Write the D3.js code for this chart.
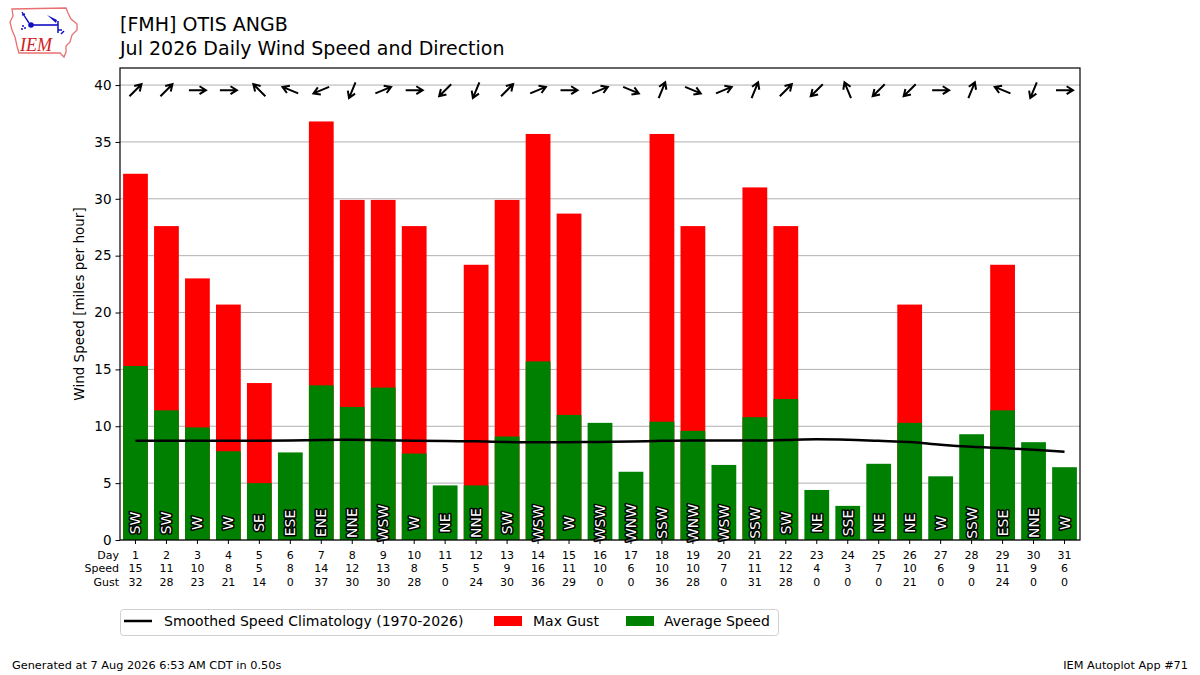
<!DOCTYPE html>
<html>
<head>
<meta charset="utf-8">
<script src="https://cdn.jsdelivr.net/npm/d3@7"></script>
<style>
  html, body { margin: 0; padding: 0; background: #fff; }
  svg { display: block; font-family: "DejaVu Sans", sans-serif; }
</style>
</head>
<body>
<svg id="chart" width="1200" height="675"></svg>
<script>
// ---- data ----
const days = d3.range(1, 32);
const avgSpeed = [15.3, 11.4, 9.9, 7.8, 5.0, 7.7, 13.6, 11.7, 13.4, 7.6, 4.8, 4.8, 9.1, 15.7, 11.0, 10.3, 6.0, 10.4, 9.6, 6.6, 10.8, 12.4, 4.4, 3.0, 6.7, 10.3, 5.6, 9.3, 11.4, 8.6, 6.4];
const maxGust = [32.2, 27.6, 23.0, 20.7, 13.8, 0, 36.8, 29.9, 29.9, 27.6, 0, 24.2, 29.9, 35.7, 28.7, 0, 0, 35.7, 27.6, 0, 31.0, 27.6, 0, 0, 0, 20.7, 0, 0, 24.2, 0, 0];
const windDir = ["SW","SW","W","W","SE","ESE","ENE","NNE","WSW","W","NE","NNE","SW","WSW","W","WSW","WNW","SSW","WNW","WSW","SSW","SW","NE","SSE","NE","NE","W","SSW","ESE","NNE","W"];
const climo = [8.73, 8.73, 8.73, 8.73, 8.73, 8.75, 8.8, 8.82, 8.78, 8.72, 8.7, 8.68, 8.62, 8.59, 8.6, 8.62, 8.65, 8.72, 8.75, 8.75, 8.74, 8.8, 8.86, 8.82, 8.72, 8.62, 8.38, 8.2, 8.09, 7.93, 7.76];
const yTicks = [0, 5, 10, 15, 20, 25, 30, 35, 40];
const compass = ["N","NNE","NE","ENE","E","ESE","SE","SSE","S","SSW","SW","WSW","W","WNW","NW","NNW"];

const titleLines = ["[FMH] OTIS ANGB", "Jul 2026 Daily Wind Speed and Direction"];
const yLabel = "Wind Speed [miles per hour]";
const legendItems = ["Smoothed Speed Climatology (1970-2026)", "Max Gust", "Average Speed"];
const footerLeft = "Generated at 7 Aug 2026 6:53 AM CDT in 0.50s";
const footerRight = "IEM Autoplot App #71";

// ---- layout ----
const svg = d3.select("#chart");
const L = 120, R = 1080, T = 68, B = 540;
const x = d3.scaleBand().domain(days).range([L, R]).paddingInner(0.2).paddingOuter(0.1);
const y = d3.scaleLinear().domain([0, 41.5]).range([B, T]);
const cx = d => x(d) + x.bandwidth() / 2;

// ---- logo ----
const logo = svg.append("g");
logo.append("path")
  .attr("d", "M12,9 L66,8 L68,13 L71,19 L77,24 L77,30 L72,35 L70,42 L66,46 L66,52 L64,57 L60,53 L19,53 L17,46 L15,37 L12,30 L10,22 L13,16 Z")
  .attr("fill", "#fff").attr("stroke", "#e87070").attr("stroke-width", 1.3);
logo.append("line").attr("x1", 31).attr("y1", 25).attr("x2", 58).attr("y2", 25).attr("stroke", "#1010c0").attr("stroke-width", 1.6);
logo.append("circle").attr("cx", 31).attr("cy", 25).attr("r", 2.8).attr("fill", "#1010c0");
logo.append("path").attr("d", "M29,23 L25,17 L22,12 M25,14 L22,15").attr("stroke", "#1010c0").attr("stroke-width", 1.4).attr("fill", "none");
logo.append("path").attr("d", "M47,15 L57,20 L56,23 Z").attr("fill", "#1010c0");
logo.append("path").attr("d", "M58,21 L58,33 M58,30 L62,30 M61,34 L64,31").attr("stroke", "#1010c0").attr("stroke-width", 1.5).attr("fill", "none");
logo.append("circle").attr("cx", 23).attr("cy", 26).attr("r", 1).attr("fill", "#1010c0");
logo.append("circle").attr("cx", 25).attr("cy", 28).attr("r", 1).attr("fill", "#1010c0");
logo.append("circle").attr("cx", 22).attr("cy", 29).attr("r", 1).attr("fill", "#1010c0");
logo.append("text").attr("x", 20).attr("y", 51)
  .attr("font-family", "Liberation Serif, serif").attr("font-style", "italic")
  .attr("font-size", 18).attr("fill", "#d02020").text("IEM");

// ---- title ----
svg.selectAll("text.title").data(titleLines).join("text")
  .attr("class", "title")
  .attr("x", 120).attr("y", (d, i) => 31 + i * 24)
  .attr("font-size", 19).attr("fill", "#000").text(d => d);

// ---- grid ----
svg.append("g").selectAll("line").data(yTicks).join("line")
  .attr("x1", L).attr("x2", R)
  .attr("y1", d => y(d)).attr("y2", d => y(d))
  .attr("stroke", "#b0b0b0").attr("stroke-width", 1);

// ---- bars ----
svg.append("g").selectAll("rect").data(days.filter((d, i) => maxGust[i] > 0)).join("rect")
  .attr("x", d => x(d)).attr("width", x.bandwidth())
  .attr("y", d => y(maxGust[d - 1])).attr("height", d => B - y(maxGust[d - 1]))
  .attr("fill", "#ff0000");
svg.append("g").selectAll("rect").data(days).join("rect")
  .attr("x", d => x(d)).attr("width", x.bandwidth())
  .attr("y", d => y(avgSpeed[d - 1])).attr("height", d => B - y(avgSpeed[d - 1]))
  .attr("fill", "#008000");

// ---- climatology line ----
svg.append("path")
  .datum(days)
  .attr("d", d3.line().x(d => cx(d)).y(d => y(climo[d - 1])).curve(d3.curveMonotoneX))
  .attr("fill", "none").attr("stroke", "#000").attr("stroke-width", 2.5);

// ---- direction labels ----
svg.append("g").selectAll("text").data(days).join("text")
  .attr("transform", d => `translate(${cx(d)},523) rotate(-90)`)
  .attr("text-anchor", "middle").attr("dominant-baseline", "central")
  .attr("font-size", 14).attr("fill", "#fff")
  .attr("stroke", "#000").attr("stroke-width", 3).attr("paint-order", "stroke")
  .attr("stroke-linejoin", "round")
  .text(d => windDir[d - 1]);

// ---- arrows ----
const arrowG = svg.append("g").attr("stroke", "#000").attr("stroke-width", 2).attr("fill", "none")
  .attr("stroke-linecap", "butt");
days.forEach((d, i) => {
  const deg = compass.indexOf(windDir[i]) * 22.5 + 180;
  const th = deg * Math.PI / 180;
  const ux = Math.sin(th), uy = -Math.cos(th);
  const half = 8.5;
  const c0x = cx(d), c0y = y(39.55);
  const tx = c0x - ux * half, ty = c0y - uy * half;
  const hx = c0x + ux * half, hy = c0y + uy * half;
  const hl = 7.5, ha = 0.55;
  const a1 = Math.atan2(uy, ux) + Math.PI - ha, a2 = Math.atan2(uy, ux) + Math.PI + ha;
  arrowG.append("path").attr("d",
    `M${tx},${ty} L${hx},${hy} M${hx + Math.cos(a1) * hl},${hy + Math.sin(a1) * hl} L${hx},${hy} L${hx + Math.cos(a2) * hl},${hy + Math.sin(a2) * hl}`);
});

// ---- axes frame ----
svg.append("rect").attr("x", L).attr("y", T).attr("width", R - L).attr("height", B - T)
  .attr("fill", "none").attr("stroke", "#000").attr("stroke-width", 1.2);

// y axis
const yAxis = svg.append("g").attr("transform", `translate(${L},0)`)
  .call(d3.axisLeft(y).tickValues(yTicks).tickSize(4.5).tickPadding(4).tickFormat(d3.format("d")));
yAxis.select(".domain").remove();
yAxis.selectAll("text").attr("font-size", 13.5).attr("font-family", "DejaVu Sans").attr("fill", "#000");
yAxis.selectAll("line").attr("stroke", "#000");

// x axis ticks + table
const xAxis = svg.append("g").attr("transform", `translate(0,${B})`)
  .call(d3.axisBottom(x).tickSize(4).tickFormat(""));
xAxis.select(".domain").remove();
xAxis.selectAll("line").attr("stroke", "#000");

const rows = [
  {label: "Day", vals: days.map(d => d)},
  {label: "Speed", vals: avgSpeed.map(v => Math.round(v))},
  {label: "Gust", vals: maxGust.map(v => Math.round(v))}
];
rows.forEach((r, ri) => {
  const ry = 555 + ri * 13.5;
  svg.append("text").attr("x", 119).attr("y", ry).attr("text-anchor", "end")
    .attr("dominant-baseline", "central").attr("font-size", 11).text(r.label);
  svg.append("g").selectAll("text").data(days).join("text")
    .attr("x", d => cx(d)).attr("y", ry).attr("text-anchor", "middle")
    .attr("dominant-baseline", "central").attr("font-size", 11)
    .text(d => r.vals[d - 1]);
});

// y label
svg.append("text").attr("transform", "translate(84,304) rotate(-90)")
  .attr("text-anchor", "middle").attr("font-size", 13.5).text(yLabel);

// ---- legend ----
const lg = svg.append("g");
lg.append("rect").attr("x", 120.5).attr("y", 609.5).attr("width", 658).attr("height", 26)
  .attr("rx", 3).attr("fill", "#fff").attr("stroke", "#d0d0d0");
lg.append("line").attr("x1", 124).attr("x2", 152).attr("y1", 621).attr("y2", 621)
  .attr("stroke", "#000").attr("stroke-width", 2.5);
lg.append("rect").attr("x", 494).attr("y", 616).attr("width", 28).attr("height", 10).attr("fill", "#ff0000");
lg.append("rect").attr("x", 626).attr("y", 616).attr("width", 28).attr("height", 10).attr("fill", "#008000");
const lgx = [164, 533, 664];
legendItems.forEach((t, i) => {
  lg.append("text").attr("x", lgx[i]).attr("y", 621).attr("dominant-baseline", "central")
    .attr("font-size", 14).text(t);
});

// ---- footer ----
svg.append("text").attr("x", 12).attr("y", 669).attr("font-size", 11.3).text(footerLeft);
svg.append("text").attr("x", 1188).attr("y", 669).attr("font-size", 11.3).attr("text-anchor", "end").text(footerRight);
</script>
</body>
</html>
